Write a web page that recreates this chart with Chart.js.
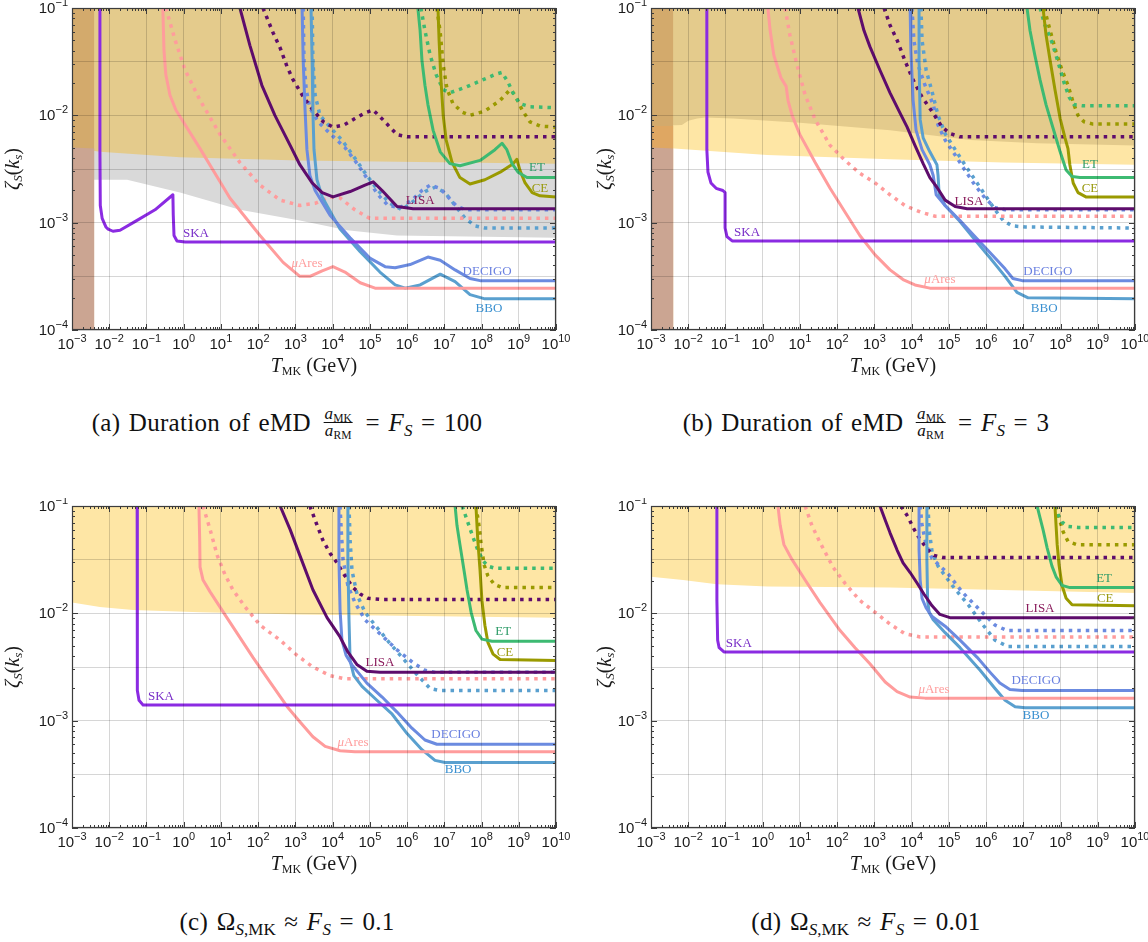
<!DOCTYPE html>
<html>
<head>
<meta charset="utf-8">
<title>zeta_S(k_s) reach of GW detectors</title>
<script src="https://cdn.jsdelivr.net/npm/chart.js@4.4.1/dist/chart.umd.min.js"></script>
<style>
  html, body { margin: 0; padding: 0; background: #fff; }
  body { position: relative; width: 1148px; height: 942px; overflow: hidden; }
  canvas { position: absolute; }
  .cap { position: absolute; font-family: "Liberation Serif", "DejaVu Serif", serif; font-size: 25px; color: #111;
         white-space: nowrap; transform: translateX(-50%); line-height: 30px; letter-spacing: 0.3px; word-spacing: 2px; }
  .cap sub { font-size: 0.68em; vertical-align: -0.3em; line-height: 0; letter-spacing: 0; }
  .frac { display: inline-block; vertical-align: middle; text-align: center; font-size: 17px; line-height: 16px;
          margin: 0 4px; position: relative; top: -3px; }
  .frac span { display: block; padding: 0 1px; }
  .frac .num { border-bottom: 1px solid #111; }
</style>
</head>
<body>
<canvas id="ca" width="570" height="380" style="left:0;top:0"></canvas>
<canvas id="cb" width="569" height="380" style="left:579px;top:0"></canvas>
<canvas id="cc" width="570" height="380" style="left:0;top:498px"></canvas>
<canvas id="cd" width="569" height="380" style="left:579px;top:498px"></canvas>

<div class="cap" style="left:287px;top:408px">(a) Duration of eMD <span class="frac"><span class="num"><i>a</i><sub>MK</sub></span><span><i>a</i><sub>RM</sub></span></span> = <i>F</i><sub><i>S</i></sub> = 100</div>
<div class="cap" style="left:866px;top:408px">(b) Duration of eMD <span class="frac"><span class="num"><i>a</i><sub>MK</sub></span><span><i>a</i><sub>RM</sub></span></span> = <i>F</i><sub><i>S</i></sub> = 3</div>
<div class="cap" style="left:287px;top:907px">(c) &Omega;<sub><i>S</i>,MK</sub> &asymp; <i>F</i><sub><i>S</i></sub> = 0.1</div>
<div class="cap" style="left:866px;top:907px">(d) &Omega;<sub><i>S</i>,MK</sub> &asymp; <i>F</i><sub><i>S</i></sub> = 0.01</div>

<script>
// axis decades (exponents of 10)
const xDecades = [-3, -2, -1, 0, 1, 2, 3, 4, 5, 6, 7, 8, 9, 10];
const yDecades = [-4, -3, -2, -1];
const yGridExp = [-4, -3.5, -3, -2.5, -2, -1.5, -1];

// every point below is [log10 T_MK/GeV, log10 zeta_S]

// ---------- (a) F_S = 100 ----------
const a_gray = [[-3,-2.6],[-1.52,-2.6],[-0.1,-2.72],[1.51,-2.88],[3.12,-2.98],[4.39,-3.07],[5.73,-3.12],[10,-3.14]];
const a_yellow = [[-3,-2.3],[-2.25,-2.34],[-0.1,-2.39],[3.12,-2.42],[10,-2.45]];
const a_bandLow = [[-3,-2.3],[-2.4,-2.31]];
const a_ska = [[-2.25,-1],[-2.25,-2.32],[-2.24,-2.84],[-2.19,-2.96],[-2.09,-3.04],[-2.03,-3.06],[-1.9,-3.08],[-1.71,-3.07],[-1.31,-2.99],[-0.77,-2.88],[-0.29,-2.74],[-0.28,-2.93],[-0.26,-3.12],[-0.18,-3.17],[0.04,-3.18],[10,-3.18]];
const a_mu = [[-0.56,-1],[-0.53,-1.39],[-0.48,-1.62],[-0.37,-1.81],[-0.21,-1.95],[0.44,-2.31],[1.24,-2.77],[2.05,-3.12],[2.67,-3.37],[3.12,-3.5],[3.39,-3.5],[3.72,-3.45],[4.01,-3.41],[4.33,-3.46],[4.74,-3.56],[5.14,-3.61],[10,-3.61]];
const a_muDot = [[-0.48,-1],[-0.23,-1.3],[0.04,-1.58],[0.44,-1.86],[0.98,-2.18],[1.51,-2.44],[2.05,-2.65],[2.59,-2.79],[3.12,-2.84],[3.53,-2.82],[3.93,-2.76],[4.2,-2.77],[4.6,-2.88],[5.0,-2.96],[10,-2.96]];
const a_lisa = [[1.51,-1],[1.78,-1.35],[2.1,-1.72],[2.45,-2.0],[2.86,-2.28],[3.12,-2.46],[3.45,-2.63],[3.72,-2.72],[4.01,-2.76],[4.47,-2.71],[4.87,-2.65],[5.09,-2.62],[5.33,-2.7],[5.73,-2.85],[6.16,-2.87],[10,-2.87]];
const a_lisaDot = [[2.13,-1],[2.4,-1.23],[2.6,-1.38],[2.78,-1.55],[2.94,-1.67],[3.2,-1.82],[3.47,-1.95],[3.75,-2.06],[4.01,-2.11],[4.3,-2.09],[4.6,-2.03],[4.85,-1.98],[5.09,-1.95],[5.35,-2.04],[5.73,-2.18],[6.0,-2.2],[10,-2.2]];
const a_decigo = [[3.18,-1],[3.21,-1.49],[3.26,-1.95],[3.31,-2.32],[3.39,-2.56],[3.53,-2.7],[3.93,-2.93],[4.47,-3.14],[5.0,-3.33],[5.41,-3.41],[5.68,-3.42],[6.08,-3.39],[6.56,-3.32],[6.89,-3.35],[7.29,-3.44],[7.69,-3.52],[7.96,-3.54],[10,-3.54]];
const a_bbo = [[3.42,-1],[3.45,-1.49],[3.47,-1.95],[3.5,-2.32],[3.58,-2.6],[3.72,-2.76],[4.2,-3.06],[4.74,-3.27],[5.27,-3.46],[5.68,-3.58],[5.95,-3.61],[6.35,-3.58],[6.89,-3.48],[7.29,-3.55],[7.69,-3.67],[8.09,-3.71],[10,-3.71]];
const a_decigoDot = [[3.21,-1],[3.23,-1.49],[3.29,-1.76],[3.39,-1.93],[3.61,-2.06],[3.93,-2.17],[4.33,-2.3],[4.66,-2.45],[4.95,-2.6],[5.22,-2.74],[5.49,-2.84],[5.81,-2.86],[6.13,-2.79],[6.4,-2.7],[6.62,-2.65],[6.89,-2.68],[7.1,-2.76],[7.31,-2.84],[7.56,-2.88],[10,-2.88]];
const a_bboDot = [[3.45,-1],[3.47,-1.49],[3.53,-1.81],[3.66,-2.0],[3.93,-2.11],[4.25,-2.23],[4.6,-2.4],[4.92,-2.56],[5.22,-2.7],[5.54,-2.82],[5.86,-2.88],[6.21,-2.79],[6.48,-2.71],[6.75,-2.67],[7.02,-2.72],[7.29,-2.84],[7.56,-2.96],[7.83,-3.03],[8.09,-3.05],[10,-3.05]];
const a_et = [[6.29,-1],[6.35,-1.21],[6.4,-1.49],[6.48,-1.72],[6.56,-1.9],[6.7,-2.14],[6.89,-2.34],[7.15,-2.45],[7.42,-2.47],[7.96,-2.42],[8.36,-2.32],[8.55,-2.26],[8.68,-2.32],[8.82,-2.45],[8.98,-2.53],[9.22,-2.58],[10,-2.58]];
const a_ce = [[6.83,-1],[6.86,-1.3],[6.91,-1.67],[6.97,-2.0],[7.05,-2.23],[7.21,-2.44],[7.42,-2.58],[7.69,-2.64],[8.09,-2.6],[8.5,-2.53],[8.85,-2.45],[8.95,-2.41],[9.03,-2.51],[9.17,-2.63],[9.36,-2.72],[9.57,-2.75],[10,-2.76]];
const a_etDot = [[6.37,-1],[6.48,-1.21],[6.62,-1.44],[6.78,-1.62],[6.97,-1.76],[7.15,-1.79],[7.56,-1.74],[7.96,-1.68],[8.36,-1.62],[8.55,-1.6],[8.71,-1.69],[8.87,-1.81],[9.03,-1.89],[9.3,-1.92],[10,-1.93]];
const a_ceDot = [[6.8,-1],[6.89,-1.23],[6.97,-1.53],[7.07,-1.75],[7.23,-1.89],[7.48,-1.97],[7.69,-2.0],[8.09,-1.96],[8.5,-1.86],[8.77,-1.76],[8.9,-1.81],[9.09,-1.95],[9.3,-2.06],[9.57,-2.1],[10,-2.11]];
const a_labels = [['SKA',0.33,-3.1],['μAres',3.31,-3.38],['LISA',6.35,-2.79],['DECIGO',8.15,-3.46],['BBO',8.2,-3.8],['ET',9.49,-2.49],['CE',9.57,-2.68]];

// ---------- (b) F_S = 3 ----------
const b_yellow = [[-3,-2.3],[-2.38,-2.31],[0.12,-2.37],[3.42,-2.41],[6.46,-2.44],[10,-2.46]];
const b_gray = [[-3,-2.1],[-2.17,-2.09],[-2.0,-2.05],[-1.76,-2.03],[-1.55,-2.02],[-0.8,-2.03],[1.0,-2.07],[3.42,-2.14],[5.57,-2.23],[7.37,-2.26],[10,-2.28]];
const b_bandMid = [[-3,-2.1],[-2.4,-2.1]];
const b_bandLow = [[-3,-2.3],[-2.4,-2.31]];
const b_ska = [[-1.5,-1],[-1.5,-2.32],[-1.47,-2.53],[-1.39,-2.63],[-1.25,-2.68],[-1.07,-2.7],[-1.01,-2.72],[-1.01,-3.05],[-0.96,-3.13],[-0.82,-3.17],[10,-3.17]];
const b_mu = [[0.14,-1],[0.2,-1.21],[0.3,-1.44],[0.49,-1.65],[0.63,-1.73],[0.68,-1.86],[0.79,-2.0],[1.0,-2.18],[1.41,-2.44],[1.81,-2.68],[2.21,-2.9],[2.61,-3.12],[3.02,-3.3],[3.42,-3.44],[3.77,-3.53],[4.09,-3.58],[4.49,-3.61],[10,-3.61]];
const b_muDot = [[0.6,-1],[0.73,-1.25],[0.92,-1.53],[1.14,-1.81],[1.41,-2.04],[1.81,-2.28],[2.21,-2.42],[2.61,-2.54],[3.02,-2.63],[3.42,-2.74],[3.82,-2.84],[4.23,-2.9],[4.63,-2.94],[10,-2.94]];
const b_lisa = [[2.56,-1],[2.72,-1.21],[2.88,-1.36],[3.15,-1.58],[3.42,-1.79],[3.69,-1.98],[3.88,-2.11],[4.09,-2.28],[4.31,-2.45],[4.49,-2.58],[4.68,-2.67],[4.9,-2.79],[5.17,-2.85],[5.49,-2.87],[10,-2.87]];
const b_lisaDot = [[3.26,-1],[3.42,-1.16],[3.61,-1.3],[3.82,-1.49],[4.04,-1.67],[4.28,-1.83],[4.58,-1.98],[4.82,-2.11],[5.03,-2.17],[5.3,-2.2],[10,-2.2]];
const b_decigo = [[3.96,-1],[3.98,-1.39],[4.04,-1.86],[4.12,-2.14],[4.28,-2.32],[4.49,-2.46],[4.58,-2.56],[4.66,-2.74],[4.9,-2.84],[5.3,-2.98],[5.7,-3.13],[6.11,-3.28],[6.51,-3.43],[6.72,-3.52],[6.97,-3.54],[10,-3.54]];
const b_bbo = [[4.2,-1],[4.2,-1.49],[4.23,-2.04],[4.31,-2.21],[4.49,-2.34],[4.68,-2.46],[4.71,-2.56],[4.74,-2.74],[4.9,-2.84],[5.3,-2.99],[5.7,-3.16],[6.11,-3.33],[6.51,-3.5],[6.83,-3.65],[7.13,-3.7],[10,-3.71]];
const b_decigoDot = [[4.01,-1],[4.06,-1.3],[4.17,-1.53],[4.36,-1.72],[4.58,-1.9],[4.71,-2.09],[4.9,-2.23],[5.17,-2.37],[5.43,-2.51],[5.7,-2.65],[5.97,-2.77],[6.24,-2.86],[6.51,-2.88],[10,-2.88]];
const b_bboDot = [[4.25,-1],[4.28,-1.3],[4.39,-1.58],[4.55,-1.78],[4.71,-2.0],[4.9,-2.17],[5.17,-2.32],[5.43,-2.46],[5.7,-2.6],[5.97,-2.74],[6.24,-2.88],[6.46,-2.98],[6.7,-3.03],[7.05,-3.04],[10,-3.05]];
const b_et = [[7.1,-1],[7.18,-1.21],[7.31,-1.44],[7.45,-1.67],[7.61,-1.9],[7.8,-2.12],[7.99,-2.34],[8.15,-2.51],[8.31,-2.57],[8.52,-2.58],[10,-2.58]];
const b_ce = [[7.53,-1],[7.61,-1.25],[7.72,-1.49],[7.85,-1.76],[7.99,-2.03],[8.12,-2.21],[8.2,-2.31],[8.25,-2.46],[8.34,-2.63],[8.47,-2.72],[8.68,-2.76],[10,-2.76]];
const b_etDot = [[7.45,-1],[7.58,-1.16],[7.77,-1.32],[7.93,-1.5],[8.09,-1.69],[8.23,-1.83],[8.36,-1.9],[8.58,-1.91],[10,-1.91]];
const b_ceDot = [[7.56,-1],[7.72,-1.21],[7.88,-1.41],[8.04,-1.58],[8.2,-1.72],[8.34,-1.88],[8.47,-2.0],[8.63,-2.06],[8.85,-2.08],[10,-2.08]];
const b_labels = [['SKA',-0.42,-3.09],['μAres',4.76,-3.53],['LISA',5.54,-2.8],['DECIGO',7.66,-3.46],['BBO',7.56,-3.8],['ET',8.79,-2.46],['CE',8.79,-2.68]];

// ---------- (c) F_S = 0.1 ----------
const c_yellow = [[-3,-1.9],[-2.25,-1.94],[-1.36,-1.97],[0.44,-1.99],[3.12,-2.01],[10,-2.04]];
const c_ska = [[-1.25,-1],[-1.25,-2.34],[-1.24,-2.72],[-1.2,-2.81],[-1.09,-2.855],[10,-2.855]];
const c_mu = [[0.41,-1],[0.43,-1.32],[0.44,-1.57],[0.52,-1.69],[0.71,-1.8],[1.16,-2.04],[1.86,-2.41],[2.32,-2.64],[2.78,-2.87],[3.12,-3.01],[3.47,-3.15],[3.8,-3.24],[4.2,-3.28],[4.6,-3.29],[10,-3.29]];
const c_muDot = [[0.52,-1],[0.71,-1.22],[0.9,-1.46],[1.11,-1.64],[1.32,-1.78],[1.65,-1.94],[2.05,-2.11],[2.59,-2.25],[3.04,-2.39],[3.47,-2.5],[3.93,-2.58],[4.33,-2.61],[10,-2.61]];
const c_lisa = [[2.59,-1],[2.86,-1.22],[3.12,-1.46],[3.47,-1.78],[3.85,-2.04],[4.2,-2.22],[4.41,-2.36],[4.66,-2.48],[4.92,-2.54],[5.27,-2.55],[10,-2.55]];
const c_lisaDot = [[3.39,-1],[3.55,-1.15],[3.74,-1.32],[3.93,-1.44],[4.12,-1.53],[4.33,-1.65],[4.55,-1.76],[4.74,-1.82],[4.95,-1.86],[5.27,-1.87],[10,-1.87]];
const c_decigo = [[4.17,-1],[4.17,-1.5],[4.2,-1.97],[4.25,-2.25],[4.36,-2.39],[4.52,-2.48],[4.92,-2.65],[5.33,-2.78],[5.73,-2.92],[6.13,-3.07],[6.48,-3.18],[6.8,-3.22],[10,-3.22]];
const c_bbo = [[4.41,-1],[4.41,-1.5],[4.44,-2.06],[4.47,-2.44],[4.57,-2.58],[4.79,-2.68],[5.19,-2.81],[5.6,-2.94],[6.0,-3.12],[6.4,-3.27],[6.75,-3.37],[7.02,-3.39],[10,-3.39]];
const c_decigoDot = [[4.2,-1],[4.23,-1.22],[4.28,-1.5],[4.41,-1.74],[4.6,-1.9],[4.87,-2.06],[5.27,-2.19],[5.73,-2.34],[6.16,-2.46],[6.48,-2.53],[6.75,-2.55],[10,-2.55]];
const c_bboDot = [[4.44,-1],[4.47,-1.32],[4.52,-1.6],[4.66,-1.83],[4.87,-1.99],[5.14,-2.11],[5.54,-2.28],[5.94,-2.44],[6.29,-2.58],[6.62,-2.7],[6.89,-2.72],[10,-2.72]];
const c_et = [[7.29,-1],[7.34,-1.18],[7.42,-1.36],[7.53,-1.6],[7.61,-1.78],[7.72,-1.99],[7.85,-2.16],[8.01,-2.24],[8.28,-2.26],[10,-2.26]];
const c_ce = [[7.85,-1],[7.9,-1.32],[7.96,-1.6],[8.01,-1.88],[8.09,-2.11],[8.17,-2.27],[8.31,-2.38],[8.5,-2.43],[10,-2.44]];
const c_etDot = [[7.48,-1],[7.61,-1.13],[7.77,-1.29],[7.9,-1.41],[8.04,-1.51],[8.17,-1.56],[8.36,-1.58],[10,-1.58]];
const c_ceDot = [[7.85,-1],[7.93,-1.18],[7.99,-1.36],[8.07,-1.55],[8.17,-1.65],[8.34,-1.73],[8.55,-1.76],[10,-1.76]];
const c_labels = [['SKA',-0.61,-2.78],['μAres',4.55,-3.2],['LISA',5.27,-2.46],['DECIGO',7.31,-3.13],['BBO',7.37,-3.46],['ET',8.58,-2.17],['CE',8.63,-2.37]];

// ---------- (d) F_S = 0.01 ----------
const d_yellow = [[-3,-1.66],[-2.14,-1.69],[-1.23,-1.73],[0.12,-1.75],[3.42,-1.76],[10,-1.81]];
const d_ska = [[-1.23,-1],[-1.23,-1.88],[-1.21,-2.25],[-1.17,-2.32],[-1.04,-2.36],[10,-2.36]];
const d_mu = [[0.41,-1],[0.47,-1.18],[0.57,-1.36],[0.79,-1.5],[1.14,-1.69],[1.54,-1.9],[2.08,-2.16],[2.48,-2.32],[2.88,-2.47],[3.29,-2.64],[3.61,-2.73],[3.96,-2.78],[4.36,-2.79],[10,-2.79]];
const d_muDot = [[1.14,-1],[1.32,-1.18],[1.54,-1.34],[1.89,-1.57],[2.21,-1.72],[2.61,-1.88],[3.02,-1.99],[3.42,-2.1],[3.82,-2.19],[4.23,-2.22],[10,-2.22]];
const d_lisa = [[3.15,-1],[3.29,-1.13],[3.42,-1.25],[3.61,-1.41],[3.77,-1.53],[3.96,-1.62],[4.15,-1.72],[4.33,-1.82],[4.55,-1.93],[4.76,-2.01],[5.03,-2.04],[10,-2.04]];
const d_lisaDot = [[3.72,-1],[3.9,-1.1],[4.04,-1.2],[4.17,-1.28],[4.31,-1.35],[4.44,-1.41],[4.6,-1.46],[4.84,-1.48],[10,-1.48]];
const d_decigo = [[4.2,-1],[4.2,-1.41],[4.23,-1.69],[4.28,-1.86],[4.39,-1.95],[4.55,-2.03],[4.9,-2.12],[5.3,-2.25],[5.76,-2.41],[6.11,-2.55],[6.37,-2.65],[6.64,-2.71],[6.97,-2.72],[10,-2.72]];
const d_bbo = [[4.41,-1],[4.41,-1.5],[4.43,-1.88],[4.47,-1.99],[4.58,-2.06],[4.9,-2.18],[5.3,-2.32],[5.84,-2.53],[6.24,-2.7],[6.51,-2.81],[6.78,-2.87],[7.05,-2.88],[10,-2.88]];
const d_decigoDot = [[4.23,-1],[4.28,-1.18],[4.39,-1.36],[4.55,-1.49],[4.95,-1.62],[5.38,-1.81],[5.84,-1.97],[6.24,-2.11],[6.56,-2.16],[10,-2.16]];
const d_bboDot = [[4.44,-1],[4.47,-1.22],[4.55,-1.43],[4.71,-1.56],[5.09,-1.74],[5.52,-1.92],[5.92,-2.11],[6.24,-2.25],[6.59,-2.31],[10,-2.31]];
const d_et = [[7.37,-1],[7.45,-1.11],[7.53,-1.22],[7.64,-1.39],[7.77,-1.56],[7.88,-1.66],[8.04,-1.74],[8.25,-1.76],[10,-1.76]];
const d_ce = [[7.85,-1],[7.88,-1.18],[7.91,-1.36],[7.96,-1.55],[8.04,-1.74],[8.15,-1.86],[8.31,-1.92],[10,-1.93]];
const d_etDot = [[7.85,-1],[7.93,-1.08],[8.04,-1.15],[8.2,-1.19],[8.47,-1.2],[10,-1.2]];
const d_ceDot = [[7.88,-1],[7.96,-1.11],[8.07,-1.24],[8.2,-1.33],[8.44,-1.36],[10,-1.36]];
const d_labels = [['SKA',-0.64,-2.28],['μAres',4.6,-2.71],['LISA',7.45,-1.96],['DECIGO',7.34,-2.63],['BBO',7.34,-2.95],['ET',9.17,-1.68],['CE',9.2,-1.86]];

// vertical band on the far left (T_MK below ~4 MeV), panels a and b
const bandFull = [[-3,-1],[-2.4,-1]];

const lineCol = { SKA:'#8b2be2', 'μAres':'#ff9c9c', LISA:'#5e0c6c', DECIGO:'#6b8be0', BBO:'#5aa0cf', ET:'#3dba72', CE:'#9a9a00' };
const textCol = { SKA:'#7a30c8', 'μAres':'#ff9c9c', LISA:'#8a1c5c', DECIGO:'#6a80e0', BBO:'#3a90d0', ET:'#2e9c68', CE:'#9a9a10' };

function pts(arr) { return arr.map(p => ({ x: 10 ** p[0], y: 10 ** p[1] })); }

function region(data, color, fill, order) {
  return { data: pts(data), borderWidth: 0, borderColor: 'rgba(0,0,0,0)', backgroundColor: color,
           pointRadius: 0, fill: fill, order: order };
}
function curve(data, name, dotted) {
  return { data: pts(data), borderColor: lineCol[name], borderWidth: dotted ? 3.5 : 3,
           borderDash: dotted ? [3.5, 5] : [], borderCapStyle: 'butt', borderJoinStyle: 'round',
           pointRadius: 0, fill: false, order: dotted ? 1 : 0 };
}
function detectorSet(p) {
  return [
    curve(p.ska, 'SKA'), curve(p.mu, 'μAres'), curve(p.muDot, 'μAres', true),
    curve(p.lisa, 'LISA'), curve(p.lisaDot, 'LISA', true),
    curve(p.decigo, 'DECIGO'), curve(p.decigoDot, 'DECIGO', true),
    curve(p.bbo, 'BBO'), curve(p.bboDot, 'BBO', true),
    curve(p.et, 'ET'), curve(p.etDot, 'ET', true),
    curve(p.ce, 'CE'), curve(p.ceDot, 'CE', true)
  ];
}

const GRAY = '#d9d9d9', GOLD = '#e4cb8c', LIGHT = '#fee6a5';
const TAN = '#d3aa6c', ORANGE = '#dfa762', BROWN = '#cba592';

const panels = [
  { id: 'ca', padRight: 14, yTitleGap: 59, labels: a_labels,
    regions: [region(a_gray, GRAY, 'end', 20), region(a_yellow, GOLD, 'end', 19),
              region(bandFull, TAN, 'start', 18), region(a_bandLow, BROWN, 'start', 17)],
    curves: { ska:a_ska, mu:a_mu, muDot:a_muDot, lisa:a_lisa, lisaDot:a_lisaDot, decigo:a_decigo, decigoDot:a_decigoDot,
              bbo:a_bbo, bboDot:a_bboDot, et:a_et, etDot:a_etDot, ce:a_ce, ceDot:a_ceDot } },
  { id: 'cb', padRight: 13, yTitleGap: 46, labels: b_labels,
    regions: [region(b_yellow, LIGHT, 'end', 20), region(b_gray, GOLD, 'end', 19),
              region(bandFull, TAN, 'start', 18), region(b_bandMid, ORANGE, 'start', 17), region(b_bandLow, BROWN, 'start', 16)],
    curves: { ska:b_ska, mu:b_mu, muDot:b_muDot, lisa:b_lisa, lisaDot:b_lisaDot, decigo:b_decigo, decigoDot:b_decigoDot,
              bbo:b_bbo, bboDot:b_bboDot, et:b_et, etDot:b_etDot, ce:b_ce, ceDot:b_ceDot } },
  { id: 'cc', padRight: 14, yTitleGap: 59, labels: c_labels,
    regions: [region(c_yellow, LIGHT, 'end', 20)],
    curves: { ska:c_ska, mu:c_mu, muDot:c_muDot, lisa:c_lisa, lisaDot:c_lisaDot, decigo:c_decigo, decigoDot:c_decigoDot,
              bbo:c_bbo, bboDot:c_bboDot, et:c_et, etDot:c_etDot, ce:c_ce, ceDot:c_ceDot } },
  { id: 'cd', padRight: 13, yTitleGap: 46, labels: d_labels,
    regions: [region(d_yellow, LIGHT, 'end', 20)],
    curves: { ska:d_ska, mu:d_mu, muDot:d_muDot, lisa:d_lisa, lisaDot:d_lisaDot, decigo:d_decigo, decigoDot:d_decigoDot,
              bbo:d_bbo, bboDot:d_bboDot, et:d_et, etDot:d_etDot, ce:d_ce, ceDot:d_ceDot } }
];

const SANS = '"Liberation Sans", Arial, sans-serif';
const SERIF = '"Liberation Serif", "Times New Roman", serif';

// draw a run of text pieces (for sub/superscripts)
function rich(ctx, parts, x, y, align) {
  let w = 0;
  parts.forEach(p => { ctx.font = p.f; p.w = ctx.measureText(p.t).width; w += p.w; });
  let cx = align === 'center' ? x - w / 2 : (align === 'right' ? x - w : x);
  parts.forEach(p => { ctx.font = p.f; ctx.fillText(p.t, cx, y + (p.dy || 0)); cx += p.w; });
}
function expo(e) { return e < 0 ? '\u2212' + (-e) : String(e); }

const framePlugin = {
  id: 'frame',
  afterDraw(chart, args, opts) {
    const ctx = chart.ctx, a = chart.chartArea, xs = chart.scales.x, ys = chart.scales.y;
    ctx.save();
    ctx.strokeStyle = '#3c3c3c';
    ctx.lineWidth = 1;
    ctx.beginPath();
    // inward ticks on all four sides
    xDecades.forEach(e => {
      for (let k = 1; k <= 9; k++) {
        if (e === 10 && k > 1) break;
        const px = Math.round(xs.getPixelForValue(k * 10 ** e)) + 0.5;
        const len = k === 1 ? 6 : 3;
        ctx.moveTo(px, a.bottom); ctx.lineTo(px, a.bottom - len);
        ctx.moveTo(px, a.top); ctx.lineTo(px, a.top + len);
      }
    });
    yDecades.forEach(e => {
      for (let k = 1; k <= 9; k++) {
        if (e === -1 && k > 1) break;
        const py = Math.round(ys.getPixelForValue(k * 10 ** e)) + 0.5;
        const len = k === 1 ? 6 : 3;
        ctx.moveTo(a.left, py); ctx.lineTo(a.left + len, py);
        ctx.moveTo(a.right, py); ctx.lineTo(a.right - len, py);
      }
    });
    ctx.stroke();
    ctx.lineWidth = 1.2;
    ctx.strokeRect(a.left + 0.5, a.top + 0.5, a.right - a.left - 1, a.bottom - a.top - 1);

    // tick labels 10^n
    ctx.fillStyle = '#1a1a1a';
    ctx.textBaseline = 'alphabetic';
    ctx.textAlign = 'left';
    xDecades.forEach(e => {
      const px = xs.getPixelForValue(10 ** e);
      rich(ctx, [{ t: '10', f: '15px ' + SANS }, { t: expo(e), f: '11px ' + SANS, dy: -7 }], px, a.bottom + 19, 'center');
    });
    yDecades.forEach(e => {
      const py = ys.getPixelForValue(10 ** e);
      rich(ctx, [{ t: '10', f: '15px ' + SANS }, { t: expo(e), f: '11px ' + SANS, dy: -7 }], a.left - 4, py + 5, 'right');
    });

    // axis titles
    rich(ctx, [{ t: 'T', f: 'italic 20px ' + SERIF }, { t: 'MK', f: '12px ' + SERIF, dy: 3 },
               { t: ' (GeV)', f: '20px ' + SERIF }], (a.left + a.right) / 2, a.bottom + 42, 'center');
    ctx.save();
    ctx.translate(a.left - opts.yTitleGap, (a.top + a.bottom) / 2);
    ctx.rotate(-Math.PI / 2);
    rich(ctx, [{ t: 'ζ', f: 'italic 20px ' + SERIF }, { t: 'S', f: 'italic 13px ' + SERIF, dy: 3 },
               { t: '(', f: '20px ' + SERIF }, { t: 'k', f: 'italic 20px ' + SERIF },
               { t: 's', f: 'italic 13px ' + SERIF, dy: 3 }, { t: ')', f: '20px ' + SERIF }], 0, 6, 'center');
    ctx.restore();

    // detector names
    ctx.textBaseline = 'middle';
    opts.labels.forEach(l => {
      const px = xs.getPixelForValue(10 ** l[1]), py = ys.getPixelForValue(10 ** l[2]);
      ctx.fillStyle = textCol[l[0]];
      if (l[0] === 'μAres') {
        rich(ctx, [{ t: 'μ', f: 'italic 13px ' + SERIF }, { t: 'Ares', f: '13px ' + SERIF }], px, py, 'center');
      } else {
        rich(ctx, [{ t: l[0], f: '13px ' + SERIF }], px, py, 'center');
      }
    });
    ctx.restore();
  }
};

panels.forEach(p => {
  new Chart(document.getElementById(p.id), {
    type: 'line',
    data: { datasets: p.regions.concat(detectorSet(p.curves)) },
    options: {
      responsive: false,
      animation: false,
      layout: { padding: { top: 8, right: p.padRight, left: 0, bottom: 0 } },
      plugins: {
        legend: { display: false },
        tooltip: { enabled: false },
        frame: { labels: p.labels, yTitleGap: p.yTitleGap }
      },
      scales: {
        x: {
          type: 'logarithmic', position: 'bottom', min: 1e-3, max: 1e10,
          afterBuildTicks: s => { s.ticks = xDecades.map(e => ({ value: 10 ** e })); },
          afterFit: s => { s.height = 50; },
          ticks: { display: false },
          border: { display: false },
          grid: { color: 'rgba(0,0,0,0.16)', lineWidth: 1, drawTicks: false, z: 1 }
        },
        y: {
          type: 'logarithmic', position: 'left', min: 1e-4, max: 1e-1,
          afterBuildTicks: s => { s.ticks = yGridExp.map(e => ({ value: 10 ** e })); },
          afterFit: s => { s.width = 72; },
          ticks: { display: false },
          border: { display: false },
          grid: { color: 'rgba(0,0,0,0.16)', lineWidth: 1, drawTicks: false, z: 1 }
        }
      }
    },
    plugins: [framePlugin]
  });
});
</script>
</body>
</html>
